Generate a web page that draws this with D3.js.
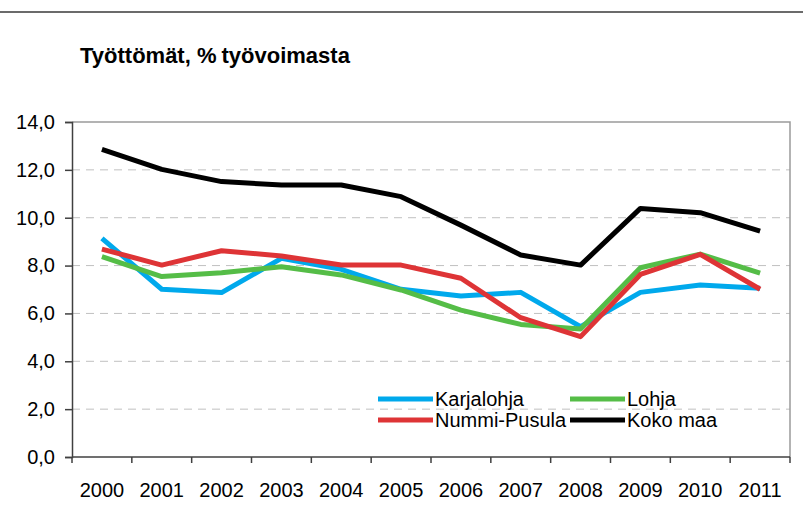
<!DOCTYPE html>
<html>
<head>
<meta charset="utf-8">
<script src="https://cdn.jsdelivr.net/npm/d3@7"></script>
<style>
  body { margin: 0; background: #fff; }
  svg { display: block; font-family: Arial, 'Liberation Sans', sans-serif; }
  .grid line { stroke: #c0c0c0; stroke-dasharray: 8,6; }
  .series path { fill: none; stroke-width: 5; stroke-linejoin: round; }
</style>
</head>
<body>
<div id="chart"></div>
<script>
var years = ['2000', '2001', '2002', '2003', '2004', '2005', '2006', '2007', '2008', '2009', '2010', '2011'];
var yTicks = [0, 2, 4, 6, 8, 10, 12, 14];
var karjalohja = [9.14, 7.01, 6.87, 8.30, 7.84, 7.01, 6.73, 6.88, 5.45, 6.88, 7.19, 7.05];
var lohja = [8.37, 7.54, 7.70, 7.95, 7.61, 6.98, 6.14, 5.54, 5.35, 7.91, 8.48, 7.68];
var nummiPusula = [8.69, 8.02, 8.62, 8.40, 8.02, 8.02, 7.47, 5.82, 5.03, 7.63, 8.47, 7.01];
var kokoMaa = [12.86, 12.02, 11.51, 11.37, 11.37, 10.88, 9.69, 8.44, 8.02, 10.39, 10.21, 9.44];

var series = [
  {name: 'Karjalohja', values: karjalohja, color: '#00a9ec'},
  {name: 'Lohja', values: lohja, color: '#55bd47'},
  {name: 'Nummi-Pusula', values: nummiPusula, color: '#de3436'},
  {name: 'Koko maa', values: kokoMaa, color: '#000000'}
];

var size = {w: 803, h: 524};
var plot = {left: 72, right: 790, top: 122, bottom: 457};

var svg = d3.select('#chart').append('svg')
  .attr('width', size.w)
  .attr('height', size.h);

// top rule over the whole picture
svg.append('line')
  .attr('x1', 0).attr('x2', size.w)
  .attr('y1', 12).attr('y2', 12)
  .attr('stroke', '#3a3a3a').attr('stroke-width', 1.5);

// title (the % sign sits a little apart from the word in the original)
var title = svg.append('text')
  .attr('x', 80).attr('y', 63)
  .attr('font-size', 22).attr('font-weight', 'bold')
  .attr('fill', '#000');
title.append('tspan').text('Työttömät, %');
title.append('tspan').attr('dx', 5).text('työvoimasta');

// scales
var x = d3.scaleBand()
  .domain(years)
  .range([plot.left, plot.right]);
var y = d3.scaleLinear()
  .domain([0, 14])
  .range([plot.bottom, plot.top]);

// grid lines
svg.append('g')
  .attr('class', 'grid')
  .selectAll('line')
  .data(yTicks.filter(function(d) { return d > 0 && d < 14; }))
  .enter().append('line')
  .attr('x1', plot.left).attr('x2', plot.right)
  .attr('y1', function(d) { return y(d); })
  .attr('y2', function(d) { return y(d); });

// plot frame top + right
svg.append('path')
  .attr('d', 'M' + plot.left + ',' + y(14) + 'H' + plot.right + 'V' + plot.bottom)
  .attr('fill', 'none')
  .attr('stroke', '#9a9a9a')
  .attr('stroke-width', 1.5);

// y axis
var yAxis = d3.axisLeft(y)
  .tickValues(yTicks)
  .tickSize(7)
  .tickPadding(10)
  .tickFormat(function(d) { return d3.format('.1f')(d).replace('.', ','); });
svg.append('g')
  .attr('transform', 'translate(' + plot.left + ',0)')
  .call(yAxis)
  .call(function(g) {
    g.selectAll('line, path').attr('stroke', '#404040').attr('stroke-width', 1.5);
    g.selectAll('text').attr('font-size', 20).attr('fill', '#000').attr('font-family', null);
  });

// x axis: ticks between categories, labels centred
svg.append('g')
  .attr('transform', 'translate(0,' + plot.bottom + ')')
  .call(function(g) {
    g.append('line')
      .attr('x1', plot.left).attr('x2', plot.right)
      .attr('stroke', '#404040').attr('stroke-width', 1.5);
    g.selectAll('line.tick')
      .data(years.concat(['end']))
      .enter().append('line')
      .attr('class', 'tick')
      .attr('x1', function(d, i) { return plot.left + i * x.step(); })
      .attr('x2', function(d, i) { return plot.left + i * x.step(); })
      .attr('y1', 0).attr('y2', 6)
      .attr('stroke', '#404040').attr('stroke-width', 1.5);
    g.selectAll('text')
      .data(years)
      .enter().append('text')
      .attr('x', function(d) { return x(d) + x.bandwidth() / 2; })
      .attr('y', 40)
      .attr('text-anchor', 'middle')
      .attr('font-size', 20)
      .text(function(d) { return d; });
  });

// lines
var line = d3.line()
  .x(function(d, i) { return x(years[i]) + x.bandwidth() / 2; })
  .y(function(d) { return y(d); });

svg.append('g')
  .attr('class', 'series')
  .selectAll('path')
  .data(series)
  .enter().append('path')
  .attr('stroke', function(d) { return d.color; })
  .attr('d', function(d) { return line(d.values); });

// legend, two columns
var legend = svg.append('g').attr('class', 'legend');
var items = legend.selectAll('g')
  .data(series)
  .enter().append('g')
  .attr('transform', function(d, i) {
    return 'translate(' + [i % 2 ? 570 : 378, i < 2 ? 399 : 420].join(',') + ')';
  });
items.append('line')
  .attr('x1', 0).attr('x2', 55)
  .attr('stroke', function(d) { return d.color; })
  .attr('stroke-width', 5);
items.append('text')
  .attr('x', 57).attr('y', 7)
  .attr('font-size', 20)
  .text(function(d) { return d.name; });
</script>
</body>
</html>
